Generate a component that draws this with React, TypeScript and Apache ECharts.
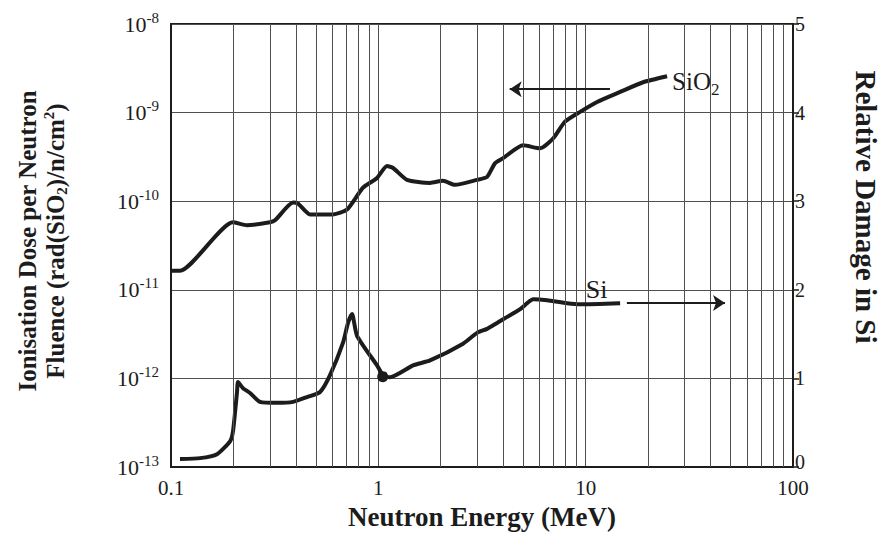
import React, { useEffect, useRef } from "react";
import * as echarts from "echarts";

// Neutron energy (MeV) and ionisation dose in SiO2 (left axis)
const sio2Energy = [0.1, 0.1105, 0.199, 0.2326, 0.3003, 0.3175, 0.3878, 0.41, 0.4684, 0.6046, 0.7063, 0.8437, 0.9857, 1.101, 1.178, 1.375, 1.776, 2.051, 2.344, 2.994, 3.345, 3.656, 3.996, 4.99, 6.03, 6.96, 7.95, 9.4, 11.35, 14.66, 18.92, 24.7];
const sio2Dose = [1.64e-11, 1.64e-11, 5.78e-11, 5.35e-11, 5.78e-11, 6.08e-11, 9.64e-11, 9.4e-11, 7.1e-11, 7.1e-11, 8.05e-11, 1.42e-10, 1.83e-10, 2.49e-10, 2.37e-10, 1.74e-10, 1.61e-10, 1.7e-10, 1.53e-10, 1.74e-10, 1.88e-10, 2.69e-10, 3.06e-10, 4.27e-10, 3.95e-10, 5.1e-10, 7.9e-10, 1.02e-9, 1.32e-9, 1.71e-9, 2.2e-9, 2.57e-9];

// Relative damage in Si (right axis)
const siEnergy = [0.1105, 0.138, 0.1667, 0.1926, 0.199, 0.2082, 0.2105, 0.2225, 0.2405, 0.2688, 0.3246, 0.3878, 0.453, 0.5234, 0.5848, 0.6756, 0.7142, 0.7466, 0.7894, 0.9857, 1.054, 1.139, 1.471, 1.776, 2.563, 2.994, 3.345, 3.738, 4.83, 5.22, 5.58, 6.51, 8.13, 9.4, 14.66];
const siDamage = [0.09, 0.1, 0.145, 0.29, 0.4, 0.846, 0.958, 0.89, 0.835, 0.735, 0.724, 0.735, 0.79, 0.846, 1.036, 1.403, 1.626, 1.726, 1.481, 1.147, 1.036, 1.013, 1.147, 1.203, 1.392, 1.514, 1.559, 1.626, 1.782, 1.849, 1.893, 1.882, 1.849, 1.837, 1.849];

// Marked reference point on the Si curve
const siMarker = [1.05, 1.02];

// Arrows: [x start, x end, y]
const sio2Arrow = [13.1, 4.3, 1.84e-9];
const siArrow = [15.8, 47, 1.85];

// Annotation anchors
const sio2LabelPos = [26.1, 2.26e-9];
const siLabelPos = [10.0, 2.0];

// Minor vertical grid lines (log decades 2..9)
const minorGridX = [0.2, 0.3, 0.4, 0.5, 0.6, 0.7, 0.8, 0.9, 2, 3, 4, 5, 6, 7, 8, 9, 20, 30, 40, 50, 60, 70, 80, 90];

const xTickLabels: Record<string, string> = { "0.1": "0.1", "1": "1", "10": "10", "100": "100" };

const FONT = "Liberation Serif, Times New Roman, serif";
const INK = "#1c1c1c";
const GRIDC = "#505050";

export default function App() {
  const ref = useRef<HTMLDivElement>(null);
  useEffect(() => {
    if (!ref.current) return;
    const chart = echarts.init(ref.current, undefined, { renderer: "svg" });
    const option: any = {
      animation: false,
      backgroundColor: "#ffffff",
      grid: {
        left: 171,
        right: 89,
        top: 24,
        bottom: 62,
        show: true,
        borderColor: INK,
        borderWidth: 2,
        backgroundColor: "transparent",
      },
      xAxis: {
        type: "log",
        logBase: 10,
        min: 0.1,
        max: 100,
        name: "Neutron Energy (MeV)",
        nameLocation: "middle",
        nameGap: 36,
        nameTextStyle: { fontFamily: FONT, fontSize: 27, fontWeight: "bold", color: INK },
        axisLine: { show: true, lineStyle: { color: INK, width: 2 } },
        axisTick: { show: false },
        axisLabel: {
          fontFamily: FONT,
          fontSize: 21,
          color: INK,
          margin: 10,
          formatter: (v: number) => xTickLabels[String(v)] ?? String(v),
        },
        splitLine: { show: true, lineStyle: { color: GRIDC, width: 1 } },
      },
      yAxis: [
        {
          type: "log",
          logBase: 10,
          min: 1e-13,
          max: 1e-8,
          interval: 1,
          position: "left",
          axisLine: { show: true, lineStyle: { color: INK, width: 2 } },
          axisTick: { show: false },
          splitLine: { show: true, lineStyle: { color: GRIDC, width: 1 } },
          axisLabel: {
            margin: 12,
            color: INK,
            formatter: (v: number) => `{b|10}{e|${Math.round(Math.log10(v))}}`,
            rich: {
              b: { fontFamily: FONT, fontSize: 22, color: INK, lineHeight: 28 },
              e: { fontFamily: FONT, fontSize: 15, color: INK, lineHeight: 15, verticalAlign: "top" },
            },
          },
        },
        {
          type: "value",
          min: 0,
          max: 5,
          interval: 1,
          position: "right",
          axisLine: { show: true, lineStyle: { color: INK, width: 2 } },
          axisTick: { show: true, length: 6, inside: false, lineStyle: { color: INK, width: 1.5 } },
          splitLine: { show: false },
          axisLabel: {
            margin: 2,
            formatter: (v: number) => (v === 0 ? `{z|${v}}` : `{n|${v}}`),
            rich: {
              n: { fontFamily: FONT, fontSize: 20, color: INK },
              z: { fontFamily: FONT, fontSize: 20, color: INK, padding: [0, 0, 10, 0] },
            },
          },
        },
      ],
      graphic: [
        {
          type: "text",
          x: 41,
          y: 241,
          rotation: Math.PI / 2,
          style: {
            text: "{t|Ionisation Dose per Neutron}\n{t|Fluence (rad(SiO}{sub|2}{t|)/n/cm}{sup|2}{t|)}",
            align: "center",
            verticalAlign: "middle",
            rich: {
              t: { fontFamily: FONT, fontSize: 25, fontWeight: "bold", fill: INK, lineHeight: 28 },
              sub: { fontFamily: FONT, fontSize: 15, fontWeight: "bold", fill: INK, lineHeight: 14, verticalAlign: "bottom" },
              sup: { fontFamily: FONT, fontSize: 15, fontWeight: "bold", fill: INK, lineHeight: 14, verticalAlign: "top" },
            },
          },
        },
        {
          type: "text",
          x: 866,
          y: 207,
          rotation: -Math.PI / 2,
          style: {
            text: "Relative Damage in Si",
            fontFamily: FONT,
            fontSize: 29,
            fontWeight: "bold",
            fill: INK,
            align: "center",
            verticalAlign: "middle",
          },
        },
      ],
      series: [
        {
          name: "grid",
          type: "line",
          data: [],
          z: 1,
          silent: true,
          markLine: {
            silent: true,
            symbol: "none",
            label: { show: false },
            lineStyle: { color: GRIDC, width: 1, type: "solid" },
            data: minorGridX.map((v) => ({ xAxis: v })),
          },
        },
        {
          name: "SiO2",
          type: "line",
          yAxisIndex: 0,
          z: 3,
          smooth: 0.2,
          showSymbol: false,
          lineStyle: { color: INK, width: 4 },
          data: sio2Energy.map((x, i) => [x, sio2Dose[i]]),
          markLine: {
            silent: true,
            symbol: ["none", "arrow"],
            symbolSize: 12,
            label: { show: false },
            lineStyle: { color: INK, width: 2, type: "solid" },
            data: [[{ coord: [sio2Arrow[0], sio2Arrow[2]] }, { coord: [sio2Arrow[1], sio2Arrow[2]] }]],
          },
          markPoint: {
            silent: true,
            symbol: "circle",
            symbolSize: 0,
            data: [{ coord: sio2LabelPos }],
            label: {
              show: true,
              position: "right",
              distance: 0,
              formatter: "{n|SiO}{s|2}",
              rich: {
                n: { fontFamily: FONT, fontSize: 25, color: INK, lineHeight: 34 },
                s: { fontFamily: FONT, fontSize: 17, color: INK, lineHeight: 14, verticalAlign: "bottom" },
              },
            },
          },
        },
        {
          name: "Si",
          type: "line",
          yAxisIndex: 1,
          z: 3,
          smooth: 0.2,
          showSymbol: false,
          lineStyle: { color: INK, width: 4 },
          data: siEnergy.map((x, i) => [x, siDamage[i]]),
          markLine: {
            silent: true,
            symbol: ["none", "arrow"],
            symbolSize: 12,
            label: { show: false },
            lineStyle: { color: INK, width: 2, type: "solid" },
            data: [[{ coord: [siArrow[0], siArrow[2]] }, { coord: [siArrow[1], siArrow[2]] }]],
          },
          markPoint: {
            silent: true,
            data: [
              { coord: siMarker, symbol: "circle", symbolSize: 11, itemStyle: { color: INK }, label: { show: false } },
              {
                coord: siLabelPos,
                symbol: "circle",
                symbolSize: 0,
                label: {
                  show: true,
                  position: "right",
                  distance: 0,
                  formatter: "Si",
                  fontFamily: FONT,
                  fontSize: 26,
                  color: INK,
                },
              },
            ],
          },
        },
      ],
    };
    chart.setOption(option);
    return () => chart.dispose();
  }, []);
  return <div ref={ref} style={{ position: "absolute", left: 0, top: 0, width: 882, height: 535 }} />;
}
